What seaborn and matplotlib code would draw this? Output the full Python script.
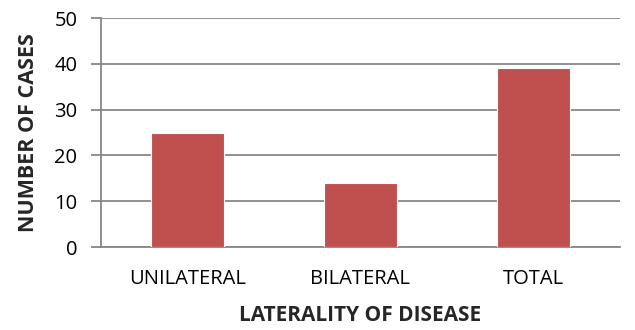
import matplotlib
matplotlib.use("Agg")
import matplotlib.pyplot as plt
import seaborn as sns
import pandas as pd

categories = ["UNILATERAL", "BILATERAL", "TOTAL"]
cases = [25, 14, 39]
y_ticks = [0, 10, 20, 30, 40, 50]

sns.set_theme(style="white")
plt.rcParams["font.family"] = ["Open Sans", "DejaVu Sans"]

df = pd.DataFrame({"laterality": categories, "cases": cases})

fig = plt.figure(figsize=(6.35, 3.3), dpi=100)
ax = fig.add_axes([0.159, 0.2515, 0.817, 0.6935])

sns.barplot(data=df, x="laterality", y="cases", color="#C0504D", saturation=1,
            width=0.42, ax=ax, zorder=3, edgecolor="white", linewidth=0.8)

ax.set_ylim(0, 50)
ax.set_yticks(y_ticks)
ax.set_xlim(-0.5, 2.5)
ax.yaxis.grid(True, color="#878787", linewidth=1.3, zorder=0)
ax.set_axisbelow(True)

for side in ["top", "right"]:
    ax.spines[side].set_visible(False)
for side in ["left", "bottom"]:
    ax.spines[side].set_color("#878787")
    ax.spines[side].set_linewidth(1.3)

ax.tick_params(axis="y", which="major", left=True, length=7, width=1.3,
               color="#878787", labelsize=14.5, pad=10, labelcolor="#000000")
ax.tick_params(axis="x", bottom=False, labelsize=14.5, pad=9.5, labelcolor="#000000")

ax.set_xlabel("LATERALITY OF DISEASE", fontsize=15, fontweight="bold", labelpad=12)
ax.set_ylabel("NUMBER OF CASES", fontsize=15.5, fontweight="bold", labelpad=11)

fig.savefig("out.png", dpi=100)
